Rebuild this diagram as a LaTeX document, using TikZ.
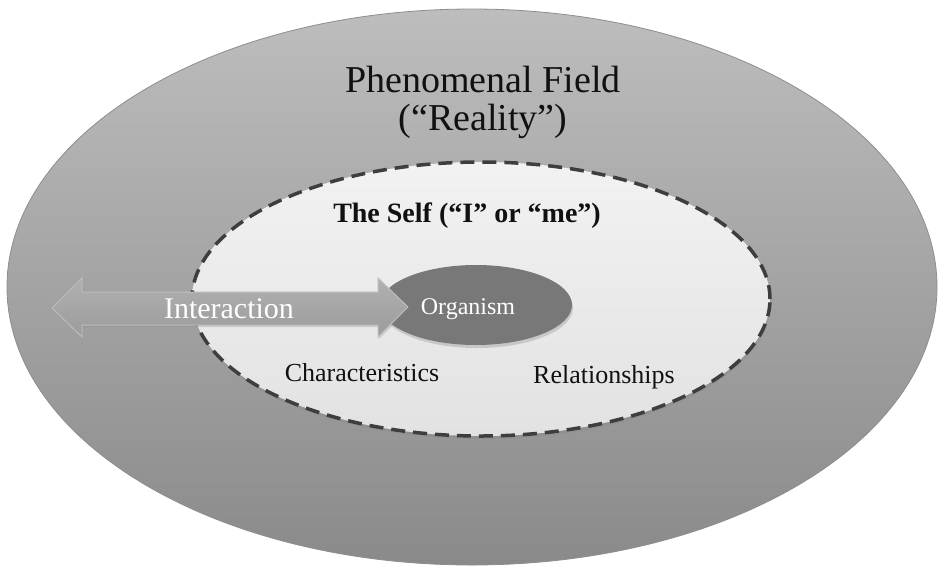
\documentclass[tikz,border=0pt]{standalone}
\usepackage{fontspec}
\setmainfont{Liberation Serif}
\usetikzlibrary{shapes.geometric,shadows}
\definecolor{outertop}{HTML}{BDBDBD}
\definecolor{outerbot}{HTML}{8A8A8A}
\definecolor{outeredge}{HTML}{8E8E8E}
\definecolor{innertop}{HTML}{F2F2F2}
\definecolor{innerbot}{HTML}{E2E2E2}
\definecolor{dashcol}{HTML}{3E3E3E}
\definecolor{orgfill}{HTML}{787878}
\definecolor{arrowtop}{HTML}{B0B0B0}
\definecolor{arrowbot}{HTML}{9C9C9C}
\definecolor{arrowedge}{HTML}{BDBDBD}
\definecolor{txt}{HTML}{111111}
\tikzset{
  fieldshape/.style={ellipse, inner sep=0pt, draw=outeredge, line width=0.8pt,
    top color=outertop, bottom color=outerbot},
  selfshape/.style={ellipse, inner sep=0pt, draw=dashcol, line width=3.5pt,
    dash pattern=on 14pt off 8pt, top color=innertop, bottom color=innerbot,
    drop shadow={opacity=0.25, shadow xshift=1pt, shadow yshift=-3pt}},
  orgshape/.style={ellipse, inner sep=0pt, fill=orgfill,
    drop shadow={opacity=0.3, shadow xshift=1pt, shadow yshift=-3pt}},
  arrowshape/.style={draw=arrowedge, line width=1pt, top color=arrowtop, bottom color=arrowbot,
    drop shadow={opacity=0.25, shadow xshift=1pt, shadow yshift=-2pt}},
  lbl/.style={anchor=base, inner sep=0pt, text=txt},
  wlbl/.style={anchor=base, inner sep=0pt, text=white},
}
\begin{document}
\begin{tikzpicture}[x=1pt,y=-1pt]
\useasboundingbox (0,0) rectangle (944,573);
\fill[white] (0,0) rectangle (944,573);
% outer phenomenal field
\node[fieldshape, minimum width=930pt, minimum height=556pt] (field) at (472,287) {};
% the self
\node[selfshape, minimum width=578pt, minimum height=274pt] (self) at (481,299) {};
% organism
\node[orgshape, minimum width=192pt, minimum height=80pt] (org) at (476,305) {};
% interaction double arrow
\coordinate (ltip) at (52,308);
\coordinate (rtip) at (408,307);
\path[arrowshape] (ltip) -- (82,278) -- (82,292) -- (378,292) -- (378,278) -- (rtip)
  -- (378,337) -- (378,325) -- (82,325) -- (82,337) -- cycle;
% labels
\node[lbl, font=\fontsize{38}{44}\selectfont] (t1) at (483,92) {Phenomenal Field};
\node[lbl, font=\fontsize{38}{44}\selectfont] (t2) at (483,130) {(“Reality”)};
\node[lbl, font=\fontsize{28}{32}\selectfont\bfseries] (t3) at (467,222) {The Self (“I” or “me”)};
\node[wlbl, font=\fontsize{24}{28}\selectfont] (t4) at (468,314) {Organism};
\node[wlbl, font=\fontsize{30}{34}\selectfont] (t5) at (229,318) {Interaction};
\node[lbl, font=\fontsize{26}{30}\selectfont] (t6) at (362,381) {Characteristics};
\node[lbl, font=\fontsize{26}{30}\selectfont] (t7) at (604,383) {Relationships};
\end{tikzpicture}
\end{document}
